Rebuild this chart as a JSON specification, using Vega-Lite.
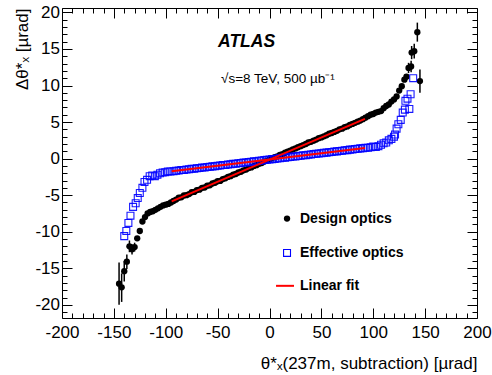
{
  "$schema": "https://vega.github.io/schema/vega-lite/v6.json",
  "width": 415,
  "height": 310,
  "autosize": {"type": "none"},
  "padding": {"left": 62, "top": 8, "right": 15, "bottom": 57},
  "config": {
    "view": {"stroke": "#000", "strokeWidth": 1},
    "font": "Liberation Sans",
    "axis": {"grid": false, "domain": false, "tickColor": "#000", "labelColor": "#000", "titleColor": "#000", "labelFont": "Liberation Sans", "titleFont": "Liberation Sans", "labelFontSize": 17, "titleFontSize": 17, "titleFontWeight": "normal", "labelFlush": false, "labelOverlap": false, "tickWidth": 1}
  },
  "datasets": {
    "design": [
      {"x": -145, "y": -17.1}, {"x": -142.5, "y": -17.6}, {"x": -140, "y": -15.4}, {"x": -137.5, "y": -14.1}, {"x": -135, "y": -12.0}, {"x": -132.5, "y": -12.4}, {"x": -130, "y": -12.1}, {"x": -127.5, "y": -10.9}, {"x": -125, "y": -9.9}, {"x": -122.5, "y": -8.6}, {"x": -120, "y": -8.0}, {"x": -117.5, "y": -7.5}, {"x": -115, "y": -7.3}, {"x": -112.5, "y": -7.2}, {"x": -110, "y": -7.0}, {"x": -107.5, "y": -6.8}, {"x": -105, "y": -6.6}, {"x": -102.5, "y": -6.4}, {"x": -100, "y": -6.3}, {"x": -97.5, "y": -6.2}, {"x": -95, "y": -6.0},
      {"x": -92.5, "y": -5.8}, {"x": -90, "y": -5.6}, {"x": -87.5, "y": -5.35}, {"x": -85, "y": -5.3}, {"x": -82.5, "y": -5.05}, {"x": -80, "y": -5.0}, {"x": -77.5, "y": -4.85}, {"x": -75, "y": -4.6}, {"x": -72.5, "y": -4.55}, {"x": -70, "y": -4.3}, {"x": -67.5, "y": -4.25}, {"x": -65, "y": -4.0}, {"x": -62.5, "y": -3.95}, {"x": -60, "y": -3.7}, {"x": -57.5, "y": -3.65}, {"x": -55, "y": -3.4}, {"x": -52.5, "y": -3.3}, {"x": -50, "y": -3.1}, {"x": -47.5, "y": -3.05}, {"x": -45, "y": -2.8}, {"x": -42.5, "y": -2.7}, {"x": -40, "y": -2.5}, {"x": -37.5, "y": -2.4}, {"x": -35, "y": -2.2}, {"x": -32.5, "y": -2.1}, {"x": -30, "y": -1.9}, {"x": -27.5, "y": -1.8}, {"x": -25, "y": -1.6}, {"x": -22.5, "y": -1.5}, {"x": -20, "y": -1.3}, {"x": -17.5, "y": -1.2}, {"x": -15, "y": -1.0}, {"x": -12.5, "y": -0.9}, {"x": -10, "y": -0.7}, {"x": -7.5, "y": -0.6}, {"x": -5, "y": -0.4}, {"x": -2.5, "y": -0.3}, {"x": 0, "y": -0.1}, {"x": 2.5, "y": 0.05}, {"x": 5, "y": 0.2}, {"x": 7.5, "y": 0.3}, {"x": 10, "y": 0.5}, {"x": 12.5, "y": 0.6}, {"x": 15, "y": 0.8}, {"x": 17.5, "y": 0.95}, {"x": 20, "y": 1.1}, {"x": 22.5, "y": 1.25}, {"x": 25, "y": 1.4}, {"x": 27.5, "y": 1.55}, {"x": 30, "y": 1.7}, {"x": 32.5, "y": 1.85}, {"x": 35, "y": 2.0}, {"x": 37.5, "y": 2.2}, {"x": 40, "y": 2.3}, {"x": 42.5, "y": 2.45}, {"x": 45, "y": 2.6}, {"x": 47.5, "y": 2.8}, {"x": 50, "y": 2.9}, {"x": 52.5, "y": 3.05}, {"x": 55, "y": 3.2}, {"x": 57.5, "y": 3.4}, {"x": 60, "y": 3.5}, {"x": 62.5, "y": 3.65}, {"x": 65, "y": 3.8}, {"x": 67.5, "y": 4.0}, {"x": 70, "y": 4.1}, {"x": 72.5, "y": 4.3}, {"x": 75, "y": 4.4}, {"x": 77.5, "y": 4.6}, {"x": 80, "y": 4.75}, {"x": 82.5, "y": 4.9}, {"x": 85, "y": 5.05}, {"x": 87.5, "y": 5.2}, {"x": 90, "y": 5.4}, {"x": 92.5, "y": 5.6},
      {"x": 95, "y": 5.8}, {"x": 97.5, "y": 6.0}, {"x": 100, "y": 6.1}, {"x": 102.5, "y": 6.3}, {"x": 105, "y": 6.4}, {"x": 107.5, "y": 6.5}, {"x": 110, "y": 6.9}, {"x": 112.5, "y": 7.2}, {"x": 115, "y": 7.4}, {"x": 117.5, "y": 7.8}, {"x": 120, "y": 8.1}, {"x": 122.5, "y": 8.5}, {"x": 125, "y": 9.3}, {"x": 127.5, "y": 9.9}, {"x": 130, "y": 10.8}, {"x": 132, "y": 11.2}, {"x": 134, "y": 12.4}, {"x": 136.5, "y": 12.6}, {"x": 137, "y": 14.5}, {"x": 139.5, "y": 14.7}, {"x": 142.5, "y": 17.3}, {"x": 145, "y": 10.6}
    ],
    "designErr": [
      {"x": -145, "lo": -20.0, "hi": -14.2}, {"x": -142.5, "lo": -19.6, "hi": -15.7}, {"x": -140, "lo": -16.8, "hi": -14.0}, {"x": -137.5, "lo": -15.1, "hi": -13.1}, {"x": -135, "lo": -12.8, "hi": -11.2}, {"x": -132.5, "lo": -13.1, "hi": -11.7}, {"x": -130, "lo": -12.7, "hi": -11.5},
      {"x": 134, "lo": 11.7, "hi": 13.1}, {"x": 136.5, "lo": 11.8, "hi": 13.4}, {"x": 137, "lo": 13.6, "hi": 15.4}, {"x": 139.5, "lo": 13.7, "hi": 15.7}, {"x": 142.5, "lo": 16.0, "hi": 18.6}, {"x": 145, "lo": 9.0, "hi": 12.2}
    ],
    "effective": [
      {"x": -140, "y": -10.6}, {"x": -138, "y": -9.9}, {"x": -136, "y": -8.8}, {"x": -134, "y": -7.8}, {"x": -131.5, "y": -6.6}, {"x": -129, "y": -6.1}, {"x": -127, "y": -5.4}, {"x": -125, "y": -4.7}, {"x": -122.5, "y": -4.0}, {"x": -120.5, "y": -3.2}, {"x": -118, "y": -2.9}, {"x": -115.5, "y": -2.4}, {"x": -113, "y": -2.3}, {"x": -110.5, "y": -2.4}, {"x": -108, "y": -2.2}, {"x": -105.5, "y": -2.0}, {"x": -103, "y": -1.9}, {"x": -100.5, "y": -1.85}, {"x": -98, "y": -1.75}, {"x": -95.5, "y": -1.75},
      {"x": -92.5, "y": -1.72}, {"x": -90, "y": -1.66}, {"x": -87.5, "y": -1.64}, {"x": -85, "y": -1.57}, {"x": -82.5, "y": -1.55}, {"x": -80, "y": -1.49}, {"x": -77.5, "y": -1.46}, {"x": -75, "y": -1.40}, {"x": -72.5, "y": -1.38}, {"x": -70, "y": -1.31}, {"x": -67.5, "y": -1.29}, {"x": -65, "y": -1.23}, {"x": -62.5, "y": -1.21}, {"x": -60, "y": -1.14}, {"x": -57.5, "y": -1.12}, {"x": -55, "y": -1.06}, {"x": -52.5, "y": -1.03}, {"x": -50, "y": -0.97}, {"x": -47.5, "y": -0.95}, {"x": -45, "y": -0.88}, {"x": -42.5, "y": -0.86}, {"x": -40, "y": -0.80}, {"x": -37.5, "y": -0.78}, {"x": -35, "y": -0.71}, {"x": -32.5, "y": -0.69}, {"x": -30, "y": -0.63}, {"x": -27.5, "y": -0.60}, {"x": -25, "y": -0.54}, {"x": -22.5, "y": -0.52}, {"x": -20, "y": -0.45}, {"x": -17.5, "y": -0.43}, {"x": -15, "y": -0.37}, {"x": -12.5, "y": -0.35}, {"x": -10, "y": -0.28}, {"x": -7.5, "y": -0.26}, {"x": -5, "y": -0.20}, {"x": -2.5, "y": -0.17}, {"x": 0, "y": -0.12}, {"x": 2.5, "y": -0.07}, {"x": 5, "y": -0.04}, {"x": 7.5, "y": 0.02}, {"x": 10, "y": 0.04}, {"x": 12.5, "y": 0.11}, {"x": 15, "y": 0.13}, {"x": 17.5, "y": 0.19}, {"x": 20, "y": 0.21}, {"x": 22.5, "y": 0.28}, {"x": 25, "y": 0.30}, {"x": 27.5, "y": 0.36}, {"x": 30, "y": 0.39}, {"x": 32.5, "y": 0.45}, {"x": 35, "y": 0.47}, {"x": 37.5, "y": 0.54}, {"x": 40, "y": 0.56}, {"x": 42.5, "y": 0.62}, {"x": 45, "y": 0.65}, {"x": 47.5, "y": 0.71}, {"x": 50, "y": 0.73}, {"x": 52.5, "y": 0.80}, {"x": 55, "y": 0.82}, {"x": 57.5, "y": 0.88}, {"x": 60, "y": 0.91}, {"x": 62.5, "y": 0.97}, {"x": 65, "y": 0.99}, {"x": 67.5, "y": 1.05}, {"x": 70, "y": 1.08}, {"x": 72.5, "y": 1.14}, {"x": 75, "y": 1.16}, {"x": 77.5, "y": 1.23}, {"x": 80, "y": 1.25}, {"x": 82.5, "y": 1.31}, {"x": 85, "y": 1.34}, {"x": 87.5, "y": 1.40}, {"x": 90, "y": 1.42}, {"x": 92.5, "y": 1.48},
      {"x": 95, "y": 1.5}, {"x": 97.5, "y": 1.55}, {"x": 100, "y": 1.65}, {"x": 102.5, "y": 1.6}, {"x": 105, "y": 1.7}, {"x": 107.5, "y": 1.9}, {"x": 110, "y": 2.1}, {"x": 112.5, "y": 2.2}, {"x": 115, "y": 2.5}, {"x": 117.5, "y": 2.7}, {"x": 120, "y": 3.0}, {"x": 121, "y": 3.3}, {"x": 122.5, "y": 4.1}, {"x": 124.2, "y": 4.7}, {"x": 126.5, "y": 5.3}, {"x": 128.4, "y": 6.3}, {"x": 130.5, "y": 6.7}, {"x": 131, "y": 7.9}, {"x": 133, "y": 8.2}, {"x": 134.8, "y": 6.8}, {"x": 136, "y": 8.8}, {"x": 138.5, "y": 11.0}
    ],
    "fits": [
      {"series": "design", "x": -94.3, "y": -5.85}, {"series": "design", "x": 92, "y": 5.44},
      {"series": "effective", "x": -94.3, "y": -1.74}, {"series": "effective", "x": 92, "y": 1.46},
      {"series": "legend", "x": 6.3, "y": -17.4}, {"series": "legend", "x": 23.6, "y": -17.4}
    ],
    "legendDesign": [{"x": 16.9, "y": -8.2}],
    "legendEffective": [{"x": 16.9, "y": -12.9}],
    "legendText": [
      {"x": 29.4, "y": -8.2, "t": "Design optics"},
      {"x": 29.4, "y": -12.9, "t": "Effective optics"},
      {"x": 29.4, "y": -17.4, "t": "Linear fit"}
    ],
    "atlas": [{"x": -49.6, "y": 15.3, "t": "ATLAS"}],
    "energy": [{"x": -46.7, "y": 10.4, "t": "√s=8 TeV, 500 µb⁻¹"}],
    "dummy": [{"x": 0, "y": 0}]
  },
  "layer": [
    {
      "encoding": {
        "x": {"field": "x", "type": "quantitative",
          "scale": {"domain": [-200, 200], "nice": false, "zero": false},
          "axis": {"orient": "bottom",
            "values": [-200,-190,-180,-170,-160,-150,-140,-130,-120,-110,-100,-90,-80,-70,-60,-50,-40,-30,-20,-10,0,10,20,30,40,50,60,70,80,90,100,110,120,130,140,150,160,170,180,190,200],
            "labelExpr": "datum.value % 50 === 0 ? '' + datum.value : ''",
            "tickSize": {"condition": {"test": "datum.value % 50 === 0", "value": -10}, "value": -5},
            "labelPadding": 16,
            "title": "θ*ₓ(237m, subtraction) [µrad]",
            "titleAnchor": "end",
            "titlePadding": 10}},
        "y": {"field": "y", "type": "quantitative",
          "scale": {"domain": [-21.8, 20.6], "nice": false, "zero": false},
          "axis": {"orient": "left",
            "values": [-21,-20,-19,-18,-17,-16,-15,-14,-13,-12,-11,-10,-9,-8,-7,-6,-5,-4,-3,-2,-1,0,1,2,3,4,5,6,7,8,9,10,11,12,13,14,15,16,17,18,19,20],
            "labelExpr": "datum.value % 5 === 0 ? '' + datum.value : ''",
            "tickSize": {"condition": {"test": "datum.value % 5 === 0", "value": -10}, "value": -5},
            "labelPadding": 12.5,
            "title": "Δθ*ₓ [µrad]",
            "titleFontSize": 17,
            "titleAnchor": "end",
            "titlePadding": 3}}
      },
      "layer": [
        {"data": {"name": "designErr"}, "mark": {"type": "rule", "color": "#000", "strokeWidth": 1.5},
         "encoding": {"y": {"field": "lo", "type": "quantitative"}, "y2": {"field": "hi"}}},
        {"data": {"name": "design"}, "mark": {"type": "point", "shape": "circle", "filled": true, "color": "#000", "size": 40, "opacity": 1}},
        {"data": {"name": "effective"}, "mark": {"type": "point", "shape": "square", "filled": false, "color": "#0000ff", "size": 48, "strokeWidth": 1.1, "opacity": 0.9}},
        {"data": {"name": "fits"}, "mark": {"type": "line", "color": "#ff0000", "strokeWidth": 2},
         "encoding": {"detail": {"field": "series"}}},
        {"data": {"name": "legendDesign"}, "mark": {"type": "point", "shape": "circle", "filled": true, "color": "#000", "size": 40, "opacity": 1}},
        {"data": {"name": "legendEffective"}, "mark": {"type": "point", "shape": "square", "filled": false, "color": "#0000ff", "size": 48, "strokeWidth": 1.1, "opacity": 1}},
        {"data": {"name": "legendText"}, "mark": {"type": "text", "align": "left", "baseline": "middle", "font": "Liberation Sans", "fontWeight": "bold", "fontSize": 14, "color": "#000"},
         "encoding": {"text": {"field": "t"}}},
        {"data": {"name": "atlas"}, "mark": {"type": "text", "align": "left", "baseline": "alphabetic", "font": "Liberation Sans", "fontWeight": "bold", "fontStyle": "italic", "fontSize": 17.5, "color": "#000"},
         "encoding": {"text": {"field": "t"}}},
        {"data": {"name": "energy"}, "mark": {"type": "text", "align": "left", "baseline": "alphabetic", "font": "Liberation Sans", "fontSize": 13.5, "color": "#000"},
         "encoding": {"text": {"field": "t"}}}
      ]
    },
    {
      "data": {"name": "dummy"},
      "mark": {"type": "point", "opacity": 0},
      "encoding": {
        "x": {"field": "x", "type": "quantitative",
          "scale": {"domain": [-200, 200], "nice": false, "zero": false},
          "axis": {"orient": "top", "labels": false, "title": null,
            "values": [-200,-190,-180,-170,-160,-150,-140,-130,-120,-110,-100,-90,-80,-70,-60,-50,-40,-30,-20,-10,0,10,20,30,40,50,60,70,80,90,100,110,120,130,140,150,160,170,180,190,200],
            "tickSize": {"condition": {"test": "datum.value % 50 === 0", "value": -10}, "value": -5}}},
        "y": {"field": "y", "type": "quantitative",
          "scale": {"domain": [-21.8, 20.6], "nice": false, "zero": false},
          "axis": {"orient": "right", "labels": false, "title": null,
            "values": [-21,-20,-19,-18,-17,-16,-15,-14,-13,-12,-11,-10,-9,-8,-7,-6,-5,-4,-3,-2,-1,0,1,2,3,4,5,6,7,8,9,10,11,12,13,14,15,16,17,18,19,20],
            "tickSize": {"condition": {"test": "datum.value % 5 === 0", "value": -10}, "value": -5}}}
      }
    }
  ],
  "resolve": {"axis": {"x": "independent", "y": "independent"}}
}
